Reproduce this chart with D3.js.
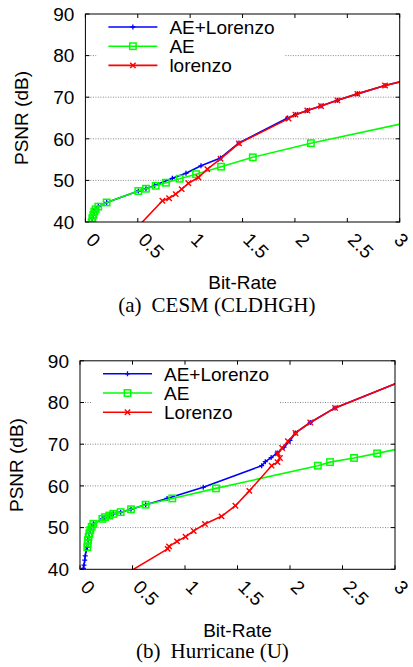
<!DOCTYPE html>
<html>
<head>
<meta charset="utf-8">
<script src="https://cdn.jsdelivr.net/npm/d3@7"></script>
<style>
  html, body { margin: 0; padding: 0; background: #fff; }
  svg { display: block; }
</style>
</head>
<body>
<script>
// ---------- data ----------
const seriesNames = ["AE+Lorenzo", "AE", "lorenzo"];
const seriesNamesB = ["AE+Lorenzo", "AE", "Lorenzo"];
const xTicks = [0, 0.5, 1, 1.5, 2, 2.5, 3];
const xTickLabels = ["0", "0.5", "1", "1.5", "2", "2.5", "3"];
const yTicks = [40, 50, 60, 70, 80, 90];
const gridValues = [50, 60, 70, 80];

// (a) CESM (CLDHGH)  [bit-rate, PSNR]
const cesmAELorenzo = [[0.060,40.0],[0.066,40.9],[0.076,41.7],[0.085,42.5],[0.098,43.05],[0.123,43.7],[0.203,44.7],[0.505,47.45],[0.578,48.0],[0.660,48.8],[0.830,50.5],[0.960,51.7],[1.103,53.5],[1.290,55.4],[1.466,59.0],[1.930,65.0],[2.005,65.8],[2.118,66.8],[2.249,67.9],[2.405,69.25],[2.596,70.8],[2.860,72.8],[3.2,74.9]];
const cesmAE = [[0.060,40.0],[0.066,40.9],[0.076,41.7],[0.085,42.5],[0.098,43.05],[0.123,43.7],[0.203,44.7],[0.505,47.45],[0.578,48.0],[0.671,48.7],[0.769,49.45],[0.900,50.4],[1.056,51.5],[1.295,53.3],[1.598,55.55],[2.152,58.95],[3.2,64.6]];
const cesmLorenzo = [[0.45,37.5],[0.735,45.1],[0.799,45.7],[0.862,46.7],[0.919,47.9],[0.983,49.3],[1.079,50.7],[1.164,52.7],[1.290,55.2],[1.466,58.9],[1.939,64.85],[2.005,65.8],[2.118,66.8],[2.249,67.9],[2.405,69.25],[2.596,70.8],[2.860,72.8],[3.2,74.9]];

// (b) Hurricane (U)
const hurrAELorenzo = [[0.030,39.6],[0.032,40.2],[0.038,41.0],[0.045,42.2],[0.050,43.2],[0.060,44.6],[0.070,45.3],[0.073,46.2],[0.076,47.0],[0.082,47.8],[0.089,48.6],[0.098,49.4],[0.111,50.2],[0.127,50.9],[0.213,52.1],[0.238,52.5],[0.279,52.9],[0.317,53.3],[0.387,53.7],[0.486,54.4],[0.625,55.5],[0.829,57.0],[1.174,59.65],[1.730,64.85],[1.765,65.8],[1.820,66.8],[1.878,67.9],[1.944,69.3],[2.000,70.9],[2.052,72.7],[2.193,75.2],[2.429,78.7],[3.2,86.5]];
const hurrAE = [[0.070,45.3],[0.073,46.2],[0.076,47.0],[0.082,47.8],[0.089,48.6],[0.098,49.4],[0.111,50.2],[0.127,50.9],[0.213,52.1],[0.238,52.5],[0.279,52.9],[0.317,53.3],[0.387,53.7],[0.486,54.4],[0.625,55.5],[0.879,57.0],[1.295,59.4],[2.265,64.85],[2.381,65.7],[2.610,66.7],[2.830,67.8],[3.2,69.75]];
const hurrLorenzo = [[0.45,39.1],[0.835,44.9],[0.848,45.5],[0.924,46.7],[1.005,47.8],[1.083,49.2],[1.190,50.85],[1.348,52.7],[1.480,55.25],[1.613,58.8],[1.825,64.85],[1.881,65.7],[1.904,66.7],[1.884,67.8],[1.925,69.1],[1.980,70.7],[2.052,72.7],[2.193,75.2],[2.429,78.7],[3.2,86.5]];

const colors = ["#0000ff", "#00ff00", "#ff0000"];
const markerTypes = ["plus", "square", "cross"];

// ---------- drawing ----------
const W = 413, H = 667;
const svg = d3.select("body").append("svg").attr("width", W).attr("height", H)
  .style("font-family", "'Liberation Sans', Arial, sans-serif");
svg.append("rect").attr("width", W).attr("height", H).attr("fill", "#fff");

function drawMarker(g, type, x, y, color) {
  if (type === "plus") {
    g.append("path").attr("d", `M${x-2.5},${y}H${x+2.5}M${x},${y-2.5}V${y+2.5}`)
      .attr("stroke", color).attr("stroke-width", 1.3).attr("fill", "none");
  } else if (type === "square") {
    g.append("rect").attr("x", x-3.2).attr("y", y-3.2).attr("width", 6.4).attr("height", 6.4)
      .attr("stroke", color).attr("stroke-width", 1.5).attr("fill", "none");
  } else {
    g.append("path").attr("d", `M${x-2.7},${y-2.7}L${x+2.7},${y+2.7}M${x-2.7},${y+2.7}L${x+2.7},${y-2.7}`)
      .attr("stroke", color).attr("stroke-width", 1.4).attr("fill", "none");
  }
}

function drawPanel(cfg, idx) {
  const {left, right, top, bottom, series, names, caption, captionX, captionY} = cfg;
  const x = d3.scaleLinear().domain([0, 3]).range([left, right]);
  const y = d3.scaleLinear().domain([40, 90]).range([bottom, top]);
  const g = svg.append("g");

  // grid
  g.selectAll(".grid").data(gridValues).join("line")
    .attr("x1", left).attr("x2", right)
    .attr("y1", d => y(d)).attr("y2", d => y(d))
    .attr("stroke", "#888").attr("stroke-width", 1).attr("stroke-dasharray", "1,1.5");

  // ticks (inward, all four sides)
  const tl = 4;
  xTicks.forEach(t => {
    g.append("line").attr("x1", x(t)).attr("x2", x(t)).attr("y1", bottom).attr("y2", bottom - tl).attr("stroke", "#000");
    g.append("line").attr("x1", x(t)).attr("x2", x(t)).attr("y1", top).attr("y2", top + tl).attr("stroke", "#000");
  });
  yTicks.forEach(t => {
    g.append("line").attr("x1", left).attr("x2", left + tl).attr("y1", y(t)).attr("y2", y(t)).attr("stroke", "#000");
    g.append("line").attr("x1", right).attr("x2", right - tl).attr("y1", y(t)).attr("y2", y(t)).attr("stroke", "#000");
  });

  // legend background (hides grid)
  g.append("rect").attr("x", left + 11).attr("y", top + 4).attr("width", 188).attr("height", 56).attr("fill", "#fff");

  // clip
  const clipId = "clip" + idx;
  svg.append("clipPath").attr("id", clipId).append("rect")
    .attr("x", left).attr("y", top).attr("width", right - left).attr("height", bottom - top);
  const plot = g.append("g").attr("clip-path", `url(#${clipId})`);
  const line = d3.line().x(d => x(d[0])).y(d => y(d[1]));
  series.forEach((s, i) => {
    const sg = plot.append("g");
    sg.append("path").attr("d", line(s)).attr("fill", "none")
      .attr("stroke", colors[i]).attr("stroke-width", 1.6).attr("stroke-linejoin", "round");
    s.forEach(p => drawMarker(sg, markerTypes[i], x(p[0]), y(p[1]), colors[i]));
  });

  // frame
  g.append("rect").attr("x", left).attr("y", top).attr("width", right - left).attr("height", bottom - top)
    .attr("fill", "none").attr("stroke", "#000").attr("stroke-width", 1);

  // y tick labels
  yTicks.forEach(t => {
    g.append("text").attr("x", left - 11).attr("y", y(t)).attr("dy", "0.36em")
      .attr("text-anchor", "end").attr("font-size", 19).text(t);
  });
  // x tick labels rotated (kept inside the page)
  xTicks.forEach((t, i) => {
    let ax = x(t) - 0.5;
    const ay = bottom + 19;
    const txt = g.append("text").attr("transform", `translate(${ax},${ay}) rotate(45)`)
      .attr("font-size", 19).text(xTickLabels[i]);
    const r = txt.node().getBoundingClientRect();
    if (r.right > W - 0.5) {
      ax -= (r.right - (W - 0.5));
      txt.attr("transform", `translate(${ax},${ay}) rotate(45)`);
    }
  });

  // axis titles
  g.append("text").attr("transform", `translate(${cfg.ylabX},${(top + bottom) / 2}) rotate(-90)`)
    .attr("text-anchor", "middle").attr("dy", "0.36em").attr("font-size", 19).text("PSNR (dB)");
  g.append("text").attr("x", (left + right) / 2).attr("y", bottom + 67.3)
    .attr("text-anchor", "middle").attr("font-size", 19).text("Bit-Rate");

  // legend
  names.forEach((n, i) => {
    const ly = top + 13 + i * 19.2;
    g.append("line").attr("x1", left + 23).attr("x2", left + 72).attr("y1", ly).attr("y2", ly)
      .attr("stroke", colors[i]).attr("stroke-width", 1.6);
    drawMarker(g, markerTypes[i], left + 47.5, ly, colors[i]);
    g.append("text").attr("x", left + 84).attr("y", ly).attr("dy", "0.36em")
      .attr("font-size", 19).text(n);
  });

  // caption
  const c = g.append("text").attr("x", captionX).attr("y", captionY)
    .attr("font-family", "'Liberation Serif', 'Times New Roman', serif").attr("font-size", 21);
  c.append("tspan").text(caption[0]);
  c.append("tspan").attr("dx", 10).text(caption[1]);
}

drawPanel({left: 85.4, right: 399.7, top: 14, bottom: 222, ylabX: 21,
  series: [cesmAELorenzo, cesmAE, cesmLorenzo], names: seriesNames,
  caption: ["(a)", "CESM (CLDHGH)"], captionX: 118.3, captionY: 311.7}, 0);
drawPanel({left: 80, right: 395, top: 360.8, bottom: 569.3, ylabX: 16,
  series: [hurrAELorenzo, hurrAE, hurrLorenzo], names: seriesNamesB,
  caption: ["(b)", "Hurricane (U)"], captionX: 136, captionY: 658.3}, 1);
</script>
</body>
</html>
